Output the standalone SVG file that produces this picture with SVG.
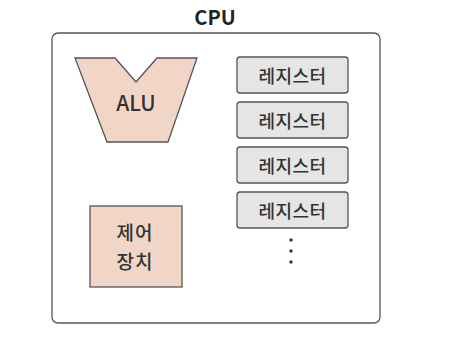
<svg xmlns="http://www.w3.org/2000/svg" width="456" height="340" viewBox="0 0 456 340">
<style>
text{font-family:"Noto Sans CJK KR","Noto Sans",sans-serif;fill:#333;text-anchor:middle;dominant-baseline:central;font-weight:500}
.reg rect{fill:#e5e5e5;stroke:#555;stroke-width:1.3}
.reg text{font-size:18px;letter-spacing:0.5px}
.peach{fill:#f1d6c8;stroke:#555;stroke-width:1.3}
</style>
<rect width="456" height="340" fill="#fff"/>
<g id="cpu">
<rect x="52" y="33" width="328" height="290" rx="6" fill="#fff" stroke="#555" stroke-width="1.3"/>
<text x="215" y="16" style="font-size:20px;font-weight:600;fill:#222">CPU</text>
</g>
<g id="alu">
<polygon class="peach" points="75,58 115,58 136,82 157,58 197,58 168,142 107,142"/>
<text x="136" y="102" style="font-size:21px">ALU</text>
</g>
<g id="control">
<rect class="peach" x="90" y="206" width="92" height="81"/>
<text x="135" y="231" style="font-size:19px;letter-spacing:1px">제어</text>
<text x="135" y="260" style="font-size:19px;letter-spacing:1px">장치</text>
</g>
<g id="reg1" class="reg"><rect x="237" y="57" width="111" height="36" rx="3"/><text x="292.5" y="75">레지스터</text></g>
<g id="reg2" class="reg"><rect x="237" y="102" width="111" height="36" rx="3"/><text x="292.5" y="120">레지스터</text></g>
<g id="reg3" class="reg"><rect x="237" y="147" width="111" height="36" rx="3"/><text x="292.5" y="165">레지스터</text></g>
<g id="reg4" class="reg"><rect x="237" y="192" width="111" height="36" rx="3"/><text x="292.5" y="210">레지스터</text></g>
<g id="more" fill="#333">
<circle cx="291" cy="240" r="1.7"/>
<circle cx="291" cy="251" r="1.7"/>
<circle cx="291" cy="262" r="1.7"/>
</g>
<g id="connectors"></g>
</svg>
